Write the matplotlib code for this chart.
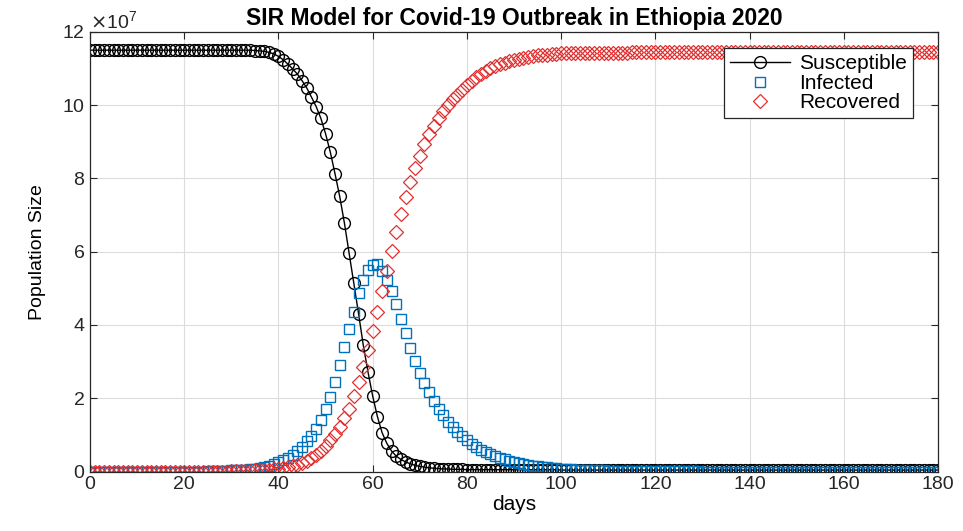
import numpy as np
import matplotlib
matplotlib.use("Agg")
import matplotlib.pyplot as plt
from matplotlib.ticker import ScalarFormatter

plt.rcParams['font.family'] = ['Liberation Sans', 'DejaVu Sans']

# values, in units of 1e7 people, one per day (0..180)
days = list(range(0, 181))

susceptible = ([11.50] * 35
               + [11.49, 11.48, 11.47, 11.44, 11.40]
               + [11.33, 11.24, 11.12, 10.99, 10.85, 10.67, 10.47, 10.22, 9.96, 9.64]
               + [9.22, 8.72, 8.13, 7.51, 6.78, 5.96, 5.14, 4.31, 3.45, 2.72]
               + [2.06, 1.50, 1.06, 0.77, 0.56, 0.42, 0.33, 0.26, 0.21, 0.17]
               + [0.14, 0.12, 0.10, 0.09, 0.08, 0.07, 0.07, 0.06, 0.06, 0.06]
               + [0.05] * 20
               + [0.04] * 81)

infected = ([0.00] * 25
            + [0.01, 0.01, 0.01, 0.02, 0.02]
            + [0.03, 0.03, 0.04, 0.05, 0.07, 0.08, 0.10, 0.13, 0.16, 0.20]
            + [0.25, 0.31, 0.38, 0.46, 0.55, 0.67, 0.82, 0.98, 1.17, 1.41]
            + [1.70, 2.04, 2.45, 2.90, 3.39, 3.90, 4.36, 4.86, 5.22, 5.50]
            + [5.64, 5.66, 5.48, 5.24, 4.92, 4.56, 4.17, 3.78, 3.38, 3.02]
            + [2.70, 2.42, 2.18, 1.93, 1.72, 1.54, 1.36, 1.22, 1.09, 0.97]
            + [0.86, 0.76, 0.68, 0.60, 0.53, 0.47, 0.42, 0.37, 0.33, 0.29]
            + [0.26, 0.23, 0.20, 0.18, 0.16, 0.14, 0.12, 0.11, 0.10, 0.09]
            + [0.08, 0.07, 0.06, 0.05, 0.05, 0.04, 0.04, 0.03, 0.03, 0.03]
            + [0.02] * 6 + [0.01] * 14
            + [0.00] * 51)

recovered = ([0.00] * 30
             + [0.01, 0.01, 0.01, 0.02, 0.02, 0.03, 0.03, 0.04, 0.05, 0.06]
             + [0.08, 0.10, 0.12, 0.15, 0.19, 0.24, 0.30, 0.37, 0.46, 0.57]
             + [0.70, 0.85, 1.02, 1.22, 1.45, 1.72, 2.06, 2.45, 2.86, 3.31]
             + [3.84, 4.36, 4.92, 5.47, 6.02, 6.55, 7.04, 7.49, 7.90, 8.28]
             + [8.62, 8.93, 9.20, 9.44, 9.65, 9.84, 10.01, 10.16, 10.29, 10.42]
             + [10.55, 10.66, 10.76, 10.85, 10.93, 11.00, 11.06, 11.11, 11.16, 11.20]
             + [11.24, 11.27, 11.30, 11.32, 11.34, 11.36, 11.37, 11.38, 11.39, 11.40]
             + [11.41, 11.41, 11.42, 11.42, 11.42]
             + [11.43] * 10
             + [11.44] * 66)

scale = 1e7
S = np.array(susceptible) * scale
I = np.array(infected) * scale
R = np.array(recovered) * scale

fig = plt.figure(figsize=(9.63, 5.31), dpi=100)
ax = fig.add_axes([0.0935, 0.112, 0.8805, 0.828])

ax.plot(days, S, '-o', color='black', lw=1.0, ms=8.5, mfc='none', mew=1.0,
        label='Susceptible')
ax.plot(days, I, 's', color='#0072BD', ms=7.5, mfc='none', mew=1.0,
        label='Infected')
ax.plot(days, R, 'D', color='#e03030', ms=7.5, mfc='none', mew=0.9,
        label='Recovered')

ax.set_xlim(0, 180)
ax.set_ylim(0, 12e7)
ax.set_xticks(range(0, 181, 20))
ax.set_yticks(np.arange(0, 12.1, 2) * scale)
fmt = ScalarFormatter(useMathText=True)
fmt.set_powerlimits((7, 7))
ax.yaxis.set_major_formatter(fmt)
ax.yaxis.get_offset_text().set_fontsize(14)
ax.yaxis.get_offset_text().set_color('#505050')

ax.grid(True, color='#dcdcdc', lw=0.8)
ax.set_axisbelow(True)
ax.tick_params(direction='in', top=True, right=True, length=5,
               labelsize=14, colors='#262626', width=0.8)
for sp in ax.spines.values():
    sp.set_color('#262626')
    sp.set_linewidth(0.9)

ax.set_title('SIR Model for Covid-19 Outbreak in Ethiopia 2020',
             fontsize=16.5, fontweight='bold', pad=5)
ax.set_xlabel('days', fontsize=15, labelpad=1)
ax.set_ylabel('Population Size', fontsize=14, labelpad=12)

leg = ax.legend(loc='upper right', bbox_to_anchor=(0.9705, 0.963),
                fontsize=15, fancybox=False, framealpha=1, edgecolor='#262626',
                borderpad=0.3, labelspacing=0.02, handlelength=2.9,
                handletextpad=0.4, borderaxespad=0)
leg.get_frame().set_linewidth(0.9)

fig.savefig('out.png', dpi=100)
